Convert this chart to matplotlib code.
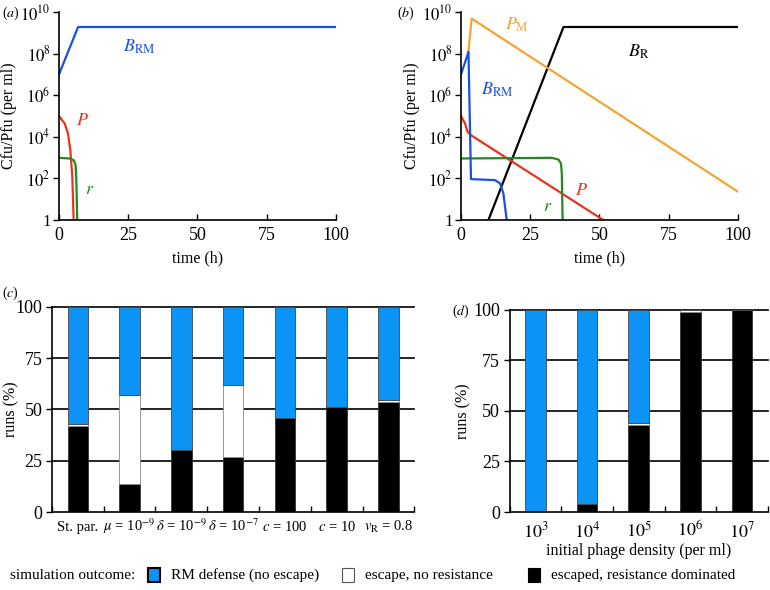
import numpy as np
import matplotlib
matplotlib.use("Agg")
import matplotlib.pyplot as plt
from matplotlib.patches import Rectangle

plt.rcParams["font.family"] = ["Liberation Serif", "DejaVu Serif"]
plt.rcParams["mathtext.fontset"] = "stix"
plt.rcParams["font.size"] = 11

# ------------------------------------------------------------
# Data
# ------------------------------------------------------------
# panel (a): standard parameters, RM defense wins
a_brm_t = [0, 6.9, 100]
a_brm_v = [1e7, 1.9e9, 1.9e9]
a_p_t = [0, 2.05, 3.25, 4.09, 4.81, 5.29, 5.4]
a_p_v = [1e5, 4.4e4, 1.45e4, 2.3e3, 1.2e2, 1.0, 0.5]
a_r_t = [0, 3.85, 5.3, 6.0, 6.26, 6.6, 6.7]
a_r_v = [9.8e2, 9.1e2, 7.6e2, 4.4e2, 83, 1.0, 0.5]

# panel (b): phage escapes, resistance dominates
b_brm_t = [0, 2.7, 3.6, 12.3, 14.1, 15.3, 15.9, 16.5, 16.7]
b_brm_v = [1e7, 1.2e8, 93, 83, 58, 19, 4.4, 1.0, 0.5]
b_pm_t = [2.65, 3.86, 100]
b_pm_v = [1.2e8, 4.8e9, 23]
b_br_t = [9.6, 9.9, 37, 100]
b_br_v = [0.5, 1.0, 1.9e9, 1.9e9]
b_p_t = [0, 1.45, 2.4, 3.6, 51.4, 52]
b_p_v = [1e5, 4.4e4, 1.7e4, 1.2e4, 1.0, 0.8]
b_r_t = [0, 32.8, 35.2, 36.1, 36.4, 36.7, 36.8]
b_r_v = [9.1e2, 9.8e2, 8.1e2, 5.2e2, 1.7e2, 1.0, 0.5]

log_ticks = [1, 1e2, 1e4, 1e6, 1e8, 1e10]
log_labels = ["1", "$10^{2}$", "$10^{4}$", "$10^{6}$", "$10^{8}$", "$10^{10}$"]

# panel (c): parameter variations (% of runs)
c_labels = ["St. par.", r"$\mu$ = 10$^{-9}$", r"$\delta$ = 10$^{-9}$",
            r"$\delta$ = 10$^{-7}$", r"$c$ = 100", r"$c$ = 10",
            r"$v_{\mathrm{R}}$ = 0.8"]
c_resist = [42, 13.5, 30, 27, 46, 51, 53.5]
c_noresist = [1, 43.5, 0, 35, 0, 0, 1]
c_rm = [57, 43, 70, 38, 54, 49, 45.5]

# panel (d): initial phage density
d_labels = ["$10^{3}$", "$10^{4}$", "$10^{5}$", "$10^{6}$", "$10^{7}$"]
d_resist = [0.3, 4, 43, 99, 100]
d_noresist = [0, 0, 1, 1, 0]
d_rm = [99.7, 96, 56, 0, 0]

col_blue = "#1a4fe6"
col_red = "#e8341c"
col_green = "#1f8a1f"
col_orange = "#f5a431"
col_bar = "#0b93f6"

fig = plt.figure(figsize=(7.7, 5.9), dpi=100)


def style_log(ax, ylab_x):
    ax.set_yscale("log")
    ax.set_ylim(1, 1e10)
    ax.set_xlim(0, 100)
    ax.set_yticks(log_ticks)
    ax.set_yticklabels(log_labels)
    ax.yaxis.set_minor_locator(matplotlib.ticker.NullLocator())
    ax.set_xticks([0, 25, 50, 75, 100])
    ax.spines[["top", "right"]].set_visible(False)
    for s in ("left", "bottom"):
        ax.spines[s].set_linewidth(1.2)
    ax.tick_params(axis="x", direction="in", length=4, width=1, pad=5,
                   labelsize=13)
    ax.tick_params(axis="y", direction="out", length=4, width=1, pad=2,
                   labelsize=12)
    ax.set_xlabel("time (h)", fontsize=11.5)
    ax.set_ylabel("Cfu/Pfu (per ml)", fontsize=11.5)
    ax.xaxis.set_label_coords(0.5, -0.145)
    ax.yaxis.set_label_coords(ylab_x, 0.5)


# ------------------------------------------------------------
# (a)
# ------------------------------------------------------------
ax_a = fig.add_axes([0.0766, 0.627, 0.3597, 0.3527])
ax_a.plot(a_brm_t, a_brm_v, color=col_blue, lw=1.6)
ax_a.plot(a_p_t, a_p_v, color=col_red, lw=1.6)
ax_a.plot(a_r_t, a_r_v, color=col_green, lw=1.6)
style_log(ax_a, -0.152)
ax_a.text(29, 10**8.32, r"$B_{\mathrm{RM}}$", color=col_blue, fontsize=13,
          ha="center", va="center")
ax_a.text(8.4, 10**4.77, r"$P$", color=col_red, fontsize=13, ha="center",
          va="center")
ax_a.text(11, 10**1.47, r"$r$", color=col_green, fontsize=13, ha="center",
          va="center")
fig.text(0.002, 0.978, "($a$)", fontsize=10, va="center")

# ------------------------------------------------------------
# (b)
# ------------------------------------------------------------
ax_b = fig.add_axes([0.5987, 0.627, 0.3597, 0.3527])
ax_b.plot(b_br_t, b_br_v, color="black", lw=1.6)
ax_b.plot(b_pm_t, b_pm_v, color=col_orange, lw=1.6)
ax_b.plot(b_p_t, b_p_v, color=col_red, lw=1.6)
ax_b.plot(b_r_t, b_r_v, color=col_green, lw=1.6)
ax_b.plot(b_brm_t, b_brm_v, color=col_blue, lw=1.6)
style_log(ax_b, -0.148)
ax_b.text(20.1, 10**9.36, r"$P_{\mathrm{M}}$", color=col_orange, fontsize=13,
          ha="center", va="center")
ax_b.text(64.1, 10**8.08, r"$B_{\mathrm{R}}$", color="black", fontsize=13,
          ha="center", va="center")
ax_b.text(12.9, 10**6.24, r"$B_{\mathrm{RM}}$", color=col_blue, fontsize=13,
          ha="center", va="center")
ax_b.text(43.6, 10**1.44, r"$P$", color=col_red, fontsize=13, ha="center",
          va="center")
ax_b.text(31.2, 10**0.64, r"$r$", color=col_green, fontsize=13, ha="center",
          va="center")
fig.text(0.515, 0.978, "($b$)", fontsize=10, va="center")


# ------------------------------------------------------------
# (c) and (d) stacked bars
# ------------------------------------------------------------
def stacked(ax, labels, resist, noresist, rm, labsize, labpad):
    n = len(labels)
    x = np.arange(n) + 0.5
    w = 0.4
    resist = np.array(resist)
    noresist = np.array(noresist)
    rm = np.array(rm)
    for yv in (25, 50, 75, 100):
        ax.axhline(yv, color="black", lw=1.2, zorder=0, clip_on=False)
    ax.bar(x, resist, w, color="black", edgecolor="#333333", lw=0.6, zorder=2)
    ax.bar(x, noresist, w, bottom=resist, color="white", edgecolor="#888888",
           lw=0.6, zorder=2)
    ax.bar(x, rm, w, bottom=resist + noresist, color=col_bar,
           edgecolor="#444444", lw=0.6, zorder=2)
    ax.set_xlim(0, n)
    ax.set_ylim(0, 100)
    ax.set_yticks([0, 25, 50, 75, 100])
    ax.set_xticks(np.arange(n + 1))
    ax.set_xticklabels([])
    ax.set_xticks(x, minor=True)
    ax.set_xticklabels(labels, minor=True)
    for lbl in ax.get_xticklabels(minor=True):
        lbl.set_verticalalignment("baseline")
    ax.tick_params(axis="x", which="major", direction="in", length=4, width=1)
    ax.tick_params(axis="x", which="minor", length=0, pad=labpad,
                   labelsize=labsize)
    ax.tick_params(axis="y", direction="out", length=4, width=1, pad=3,
                   labelsize=13)
    ax.spines[["top", "right"]].set_visible(False)
    for s in ("left", "bottom"):
        ax.spines[s].set_linewidth(1.2)
    ax.set_ylabel("runs (%)", fontsize=11.5)


ax_c = fig.add_axes([0.0675, 0.1322, 0.4705, 0.3475])
stacked(ax_c, c_labels, c_resist, c_noresist, c_rm, 10.5, 13.5)
ax_c.yaxis.set_label_coords(-0.09, 0.5)
fig.text(0.002, 0.503, "($c$)", fontsize=10, va="center")

ax_d = fig.add_axes([0.662, 0.1322, 0.335, 0.3424])
stacked(ax_d, d_labels, d_resist, d_noresist, d_rm, 13, 18)
ax_d.set_xlabel("initial phage density (per ml)", fontsize=11.5)
ax_d.xaxis.set_label_coords(0.5, -0.153)
ax_d.yaxis.set_label_coords(-0.147, 0.5)
fig.text(0.587, 0.472, "($d$)", fontsize=10, va="center")

# ------------------------------------------------------------
# legend row
# ------------------------------------------------------------
ly = 0.0254
fig.text(10 / 770, ly, "simulation outcome:", va="center", fontsize=11)
legend_items = [(148, col_bar, "black", 1.5, "RM defense (no escape)"),
                (342, "white", "#555555", 0.8, "escape, no resistance"),
                (528, "black", "black", 0.8, "escaped, resistance dominated")]
for px, fc, ec, lw, lab in legend_items:
    fig.add_artist(Rectangle((px / 770, ly - 7 / 590), 12 / 770, 14 / 590,
                             transform=fig.transFigure, facecolor=fc,
                             edgecolor=ec, lw=lw))
    fig.text((px + 23) / 770, ly, lab, va="center", fontsize=11)

fig.savefig("out.png", dpi=100)
